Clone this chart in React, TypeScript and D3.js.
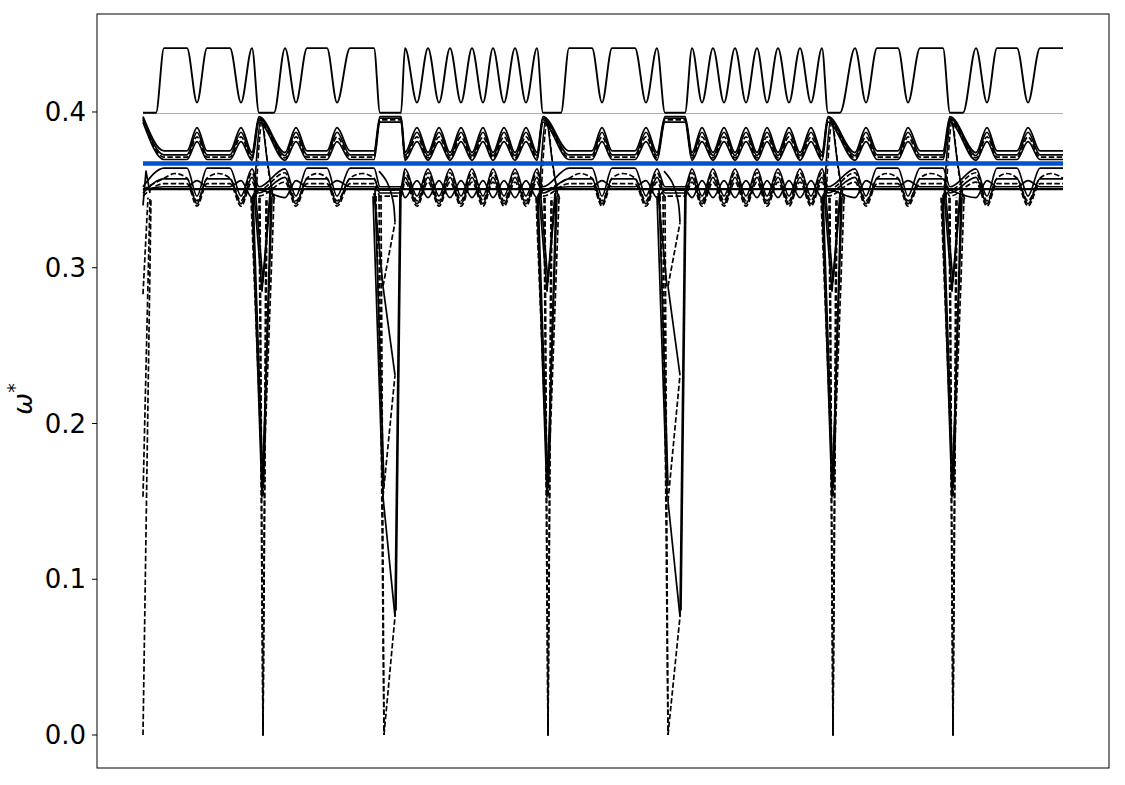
import React from "react";
import * as d3 from "d3";

// ---------- data ----------
// key features along the k-path (sample index) and the kind of feature of the top band there:
// G = gap at a crossing, g = gap (top band only), P = plateau edge, M = plateau middle, D = dip, K = peak
const keyPoints: [number, string][] = [
  [0, "G"], [13, "g"], [21, "P"], [32, "M"], [44, "P"], [54, "D"], [64, "P"], [75, "M"], [87, "P"], [98, "D"], [109, "K"], [116, "G"],
  [131, "g"], [142, "K"], [153, "D"], [164, "P"], [174, "M"], [184, "P"], [194, "D"], [207, "P"], [219, "M"], [231, "P"], [237, "G"],
  [258, "G"], [262, "K"], [274, "D"], [285, "K"], [296, "D"], [307, "K"], [318, "D"], [329, "K"], [340, "D"], [350, "K"], [361, "D"], [372, "K"], [383, "D"], [394, "K"], [400, "G"],
  [418, "g"], [426, "P"], [437, "M"], [449, "P"], [459, "D"], [469, "P"], [480, "M"], [492, "P"], [503, "D"], [514, "K"], [522, "G"],
  [542, "G"], [549, "K"], [559, "D"], [570, "K"], [581, "D"], [592, "K"], [603, "D"], [614, "K"], [624, "D"], [635, "K"], [646, "D"], [657, "K"], [668, "D"], [679, "K"], [685, "G"],
  [697, "g"], [712, "K"], [723, "D"], [734, "P"], [744, "M"], [755, "P"], [765, "D"], [777, "P"], [788, "M"], [800, "P"], [807, "G"],
  [820, "g"], [833, "K"], [844, "D"], [854, "P"], [864, "M"], [874, "P"], [885, "D"], [897, "P"], [908, "M"], [920, "P"],
];

// band frequency levels at each kind of feature
const topBand: Record<string, number> = { G: 0.3995, g: 0.3995, P: 0.441, M: 0.441, D: 0.406, K: 0.441 };
const midBand1: Record<string, number> = { G: 0.397, P: 0.375, M: 0.375, D: 0.39, K: 0.374 };
const midBand2: Record<string, number> = { G: 0.396, P: 0.3725, M: 0.3725, D: 0.387, K: 0.372 };
const midBand3: Record<string, number> = { G: 0.395, P: 0.371, M: 0.371, D: 0.384, K: 0.3705 };
const midBand4: Record<string, number> = { G: 0.3935, P: 0.3695, M: 0.3695, D: 0.381, K: 0.369 };
const lowBand1: Record<string, number> = { G: 0.352, P: 0.364, M: 0.364, D: 0.346, K: 0.3635 };
const lowBand2: Record<string, number> = { G: 0.35, P: 0.3575, M: 0.3605, D: 0.343, K: 0.361 };
const lowBand3: Record<string, number> = { G: 0.348, P: 0.357, M: 0.357, D: 0.341, K: 0.358 };
const lowBand4: Record<string, number> = { G: 0.3505, P: 0.3505, M: 0.3505, D: 0.3505, K: 0.3505 };
const lowBand5: Record<string, number> = { G: 0.346, P: 0.354, M: 0.354, D: 0.3395, K: 0.355 };
const lowBand6: Record<string, number> = { G: 0.35, P: 0.352, M: 0.352, D: 0.356, K: 0.345 };

// lines diving down at the crossings (d = dashed)
const dipLines: { d: boolean; p: [number, number][] }[] = [
  // start
  { d: true, p: [[0, 0.0], [8, 0.345]] },
  { d: true, p: [[0, 0.153], [7, 0.345]] },
  { d: true, p: [[0, 0.283], [5, 0.345]] },
  { d: false, p: [[0, 0.34], [3, 0.362], [7, 0.348]] },
  // crossing at 120
  { d: false, p: [[111, 0.348], [119, 0.285], [127, 0.348]] },
  { d: false, p: [[112, 0.352], [120, 0.291], [128, 0.35]] },
  { d: false, p: [[109, 0.345], [119, 0.153], [129, 0.345]] },
  { d: false, p: [[110, 0.347], [120, 0.16], [128, 0.346]] },
  { d: true, p: [[108, 0.345], [120, 0.153], [131, 0.345]] },
  { d: true, p: [[116, 0.345], [120, 0.0], [123, 0.345]] },
  { d: true, p: [[117, 0.345], [120, 0.0], [124, 0.345]] },
  // crossing at 241
  { d: false, p: [[231, 0.348], [240, 0.288]] },
  { d: false, p: [[230, 0.346], [240, 0.153]] },
  { d: false, p: [[232, 0.35], [241, 0.16]] },
  { d: true, p: [[233, 0.346], [240, 0.153]] },
  { d: true, p: [[236, 0.346], [241, 0.0]] },
  { d: true, p: [[238, 0.346], [241, 0.0]] },
  { d: true, p: [[241, 0.0], [252, 0.076]] },
  { d: false, p: [[252, 0.076], [240, 0.153]] },
  { d: true, p: [[240, 0.153], [252, 0.231]] },
  { d: false, p: [[252, 0.231], [240, 0.288]] },
  { d: true, p: [[240, 0.288], [252, 0.329]] },
  { d: false, p: [[252, 0.329], [250, 0.343], [244, 0.355], [236, 0.362]] },
  { d: false, p: [[252, 0.076], [257, 0.35]] },
  { d: false, p: [[253, 0.08], [258, 0.352]] },
  // crossing at 405
  { d: false, p: [[396, 0.348], [404, 0.285], [412, 0.348]] },
  { d: false, p: [[397, 0.352], [405, 0.291], [413, 0.35]] },
  { d: false, p: [[394, 0.345], [404, 0.153], [414, 0.345]] },
  { d: false, p: [[395, 0.347], [405, 0.16], [413, 0.346]] },
  { d: true, p: [[393, 0.345], [405, 0.153], [416, 0.345]] },
  { d: true, p: [[401, 0.345], [405, 0.0], [408, 0.345]] },
  { d: true, p: [[402, 0.345], [405, 0.0], [409, 0.345]] },
  // crossing at 525
  { d: false, p: [[515, 0.348], [524, 0.288]] },
  { d: false, p: [[514, 0.346], [524, 0.153]] },
  { d: false, p: [[516, 0.35], [525, 0.16]] },
  { d: true, p: [[517, 0.346], [524, 0.153]] },
  { d: true, p: [[520, 0.346], [525, 0.0]] },
  { d: true, p: [[522, 0.346], [525, 0.0]] },
  { d: true, p: [[525, 0.0], [537, 0.076]] },
  { d: false, p: [[537, 0.076], [525, 0.15]] },
  { d: true, p: [[525, 0.15], [537, 0.231]] },
  { d: false, p: [[537, 0.231], [525, 0.288]] },
  { d: true, p: [[525, 0.288], [537, 0.329]] },
  { d: false, p: [[537, 0.329], [535, 0.343], [529, 0.355], [521, 0.362]] },
  { d: false, p: [[537, 0.076], [542, 0.35]] },
  { d: false, p: [[538, 0.08], [543, 0.352]] },
  // crossing at 690
  { d: false, p: [[681, 0.348], [689, 0.285], [697, 0.348]] },
  { d: false, p: [[682, 0.352], [690, 0.291], [698, 0.35]] },
  { d: false, p: [[679, 0.345], [689, 0.153], [699, 0.345]] },
  { d: false, p: [[680, 0.347], [690, 0.16], [698, 0.346]] },
  { d: true, p: [[678, 0.345], [690, 0.153], [701, 0.345]] },
  { d: true, p: [[686, 0.345], [690, 0.0], [693, 0.345]] },
  { d: true, p: [[687, 0.345], [690, 0.0], [694, 0.345]] },
  // crossing at 810
  { d: false, p: [[801, 0.348], [809, 0.285], [817, 0.348]] },
  { d: false, p: [[802, 0.352], [810, 0.291], [818, 0.35]] },
  { d: false, p: [[799, 0.345], [809, 0.153], [819, 0.345]] },
  { d: false, p: [[800, 0.347], [810, 0.16], [818, 0.346]] },
  { d: true, p: [[798, 0.345], [810, 0.153], [821, 0.345]] },
  { d: true, p: [[806, 0.345], [810, 0.0], [813, 0.345]] },
  { d: true, p: [[807, 0.345], [810, 0.0], [814, 0.345]] },
];

// lines rising through the reference line at the crossings
const riseLines: { d: boolean; p: [number, number][] }[] = [
  { d: false, p: [[111, 0.343], [118, 0.396], [124, 0.37], [130, 0.345]] },
  { d: true, p: [[113, 0.345], [119, 0.394], [126, 0.36], [132, 0.343]] },
  { d: false, p: [[396, 0.343], [403, 0.396], [409, 0.37], [415, 0.345]] },
  { d: true, p: [[398, 0.345], [404, 0.394], [411, 0.36], [417, 0.343]] },
  { d: false, p: [[681, 0.343], [688, 0.396], [694, 0.37], [700, 0.345]] },
  { d: true, p: [[683, 0.345], [689, 0.394], [696, 0.36], [702, 0.343]] },
  { d: false, p: [[801, 0.343], [808, 0.396], [814, 0.37], [820, 0.345]] },
  { d: true, p: [[803, 0.345], [809, 0.394], [816, 0.36], [822, 0.343]] },
];

const gapLevel = 0.399;
const referenceLevel = 0.3669;
const pathRange: [number, number] = [0, 920];
const yTicks = [0, 0.1, 0.2, 0.3, 0.4];

// ---------- chart ----------
const W = 1125;
const H = 785;
const L = 97, R = 1109, T = 14, B = 768;

export default function App() {
  const x = d3.scaleLinear().domain([-46, 966]).range([L, R]);
  const y = d3.scaleLinear().domain([-0.02119, 0.46292]).range([B, T]);

  const smooth = d3
    .line<[number, number]>()
    .x((d) => x(d[0]))
    .y((d) => y(d[1]))
    .curve(d3.curveMonotoneX);
  const straight = d3
    .line<[number, number]>()
    .x((d) => x(d[0]))
    .y((d) => y(d[1]));
  const spline = d3
    .line<[number, number]>()
    .x((d) => x(d[0]))
    .y((d) => y(d[1]))
    .curve(d3.curveCatmullRom);

  const band = (levels: Record<string, number>): [number, number][] =>
    keyPoints.filter(([, s]) => levels[s] !== undefined).map(([k, s]) => [k, levels[s]]);

  const dash = "5.5,2.4";
  const bands = [
    { lv: lowBand4, dashed: false, w: 2.3 },
    { lv: lowBand6, dashed: false, w: 1.7 },
    { lv: lowBand5, dashed: true, w: 1.7 },
    { lv: lowBand3, dashed: false, w: 1.7 },
    { lv: lowBand2, dashed: true, w: 1.7 },
    { lv: lowBand1, dashed: false, w: 1.7 },
    { lv: midBand4, dashed: false, w: 1.7 },
    { lv: midBand3, dashed: true, w: 1.7 },
    { lv: midBand2, dashed: false, w: 1.7 },
    { lv: midBand1, dashed: false, w: 1.8 },
    { lv: topBand, dashed: false, w: 1.9 },
  ];

  return (
    <svg
      width={W}
      height={H}
      style={{ position: "absolute", left: 0, top: 0, background: "#fff" }}
      fontFamily="DejaVu Sans, sans-serif"
    >
      <rect x={0} y={0} width={W} height={H} fill="#fff" />
      <line
        x1={x(pathRange[0])}
        x2={x(pathRange[1])}
        y1={y(gapLevel)}
        y2={y(gapLevel)}
        stroke="#aaaaaa"
        strokeWidth={1}
      />
      {bands.map((b, i) => (
        <path
          key={"b" + i}
          d={smooth(band(b.lv)) || ""}
          fill="none"
          stroke="#000"
          strokeWidth={b.w}
          strokeDasharray={b.dashed ? dash : undefined}
          strokeLinejoin="round"
        />
      ))}
      {riseLines.map((r, i) => (
        <path
          key={"r" + i}
          d={spline(r.p) || ""}
          fill="none"
          stroke="#000"
          strokeWidth={1.6}
          strokeDasharray={r.d ? dash : undefined}
        />
      ))}
      {dipLines.map((r, i) => (
        <path
          key={"d" + i}
          d={(r.p.length > 3 ? spline(r.p) : straight(r.p)) || ""}
          fill="none"
          stroke="#000"
          strokeWidth={1.7}
          strokeDasharray={r.d ? dash : undefined}
          strokeLinejoin="round"
        />
      ))}
      <line
        x1={x(pathRange[0])}
        x2={x(pathRange[1])}
        y1={y(referenceLevel)}
        y2={y(referenceLevel)}
        stroke="#0052cc"
        strokeWidth={4.5}
      />
      <rect x={L} y={T} width={R - L} height={B - T} fill="none" stroke="#000" strokeWidth={1} />
      {yTicks.map((t) => (
        <g key={t} transform={`translate(${L},${y(t)})`}>
          <line x1={-5} x2={0} stroke="#000" strokeWidth={1} />
          <text x={-11} dy="0.35em" textAnchor="end" fontSize={26} fill="#000">
            {d3.format(".1f")(t)}
          </text>
        </g>
      ))}
      <text transform={`translate(32,${(T + B) / 2 + 8}) rotate(-90)`} textAnchor="middle" fontSize={26} fill="#000">
        <tspan fontStyle="italic">ω</tspan>
        <tspan dy={-11} fontSize={19}>*</tspan>
      </text>
    </svg>
  );
}
